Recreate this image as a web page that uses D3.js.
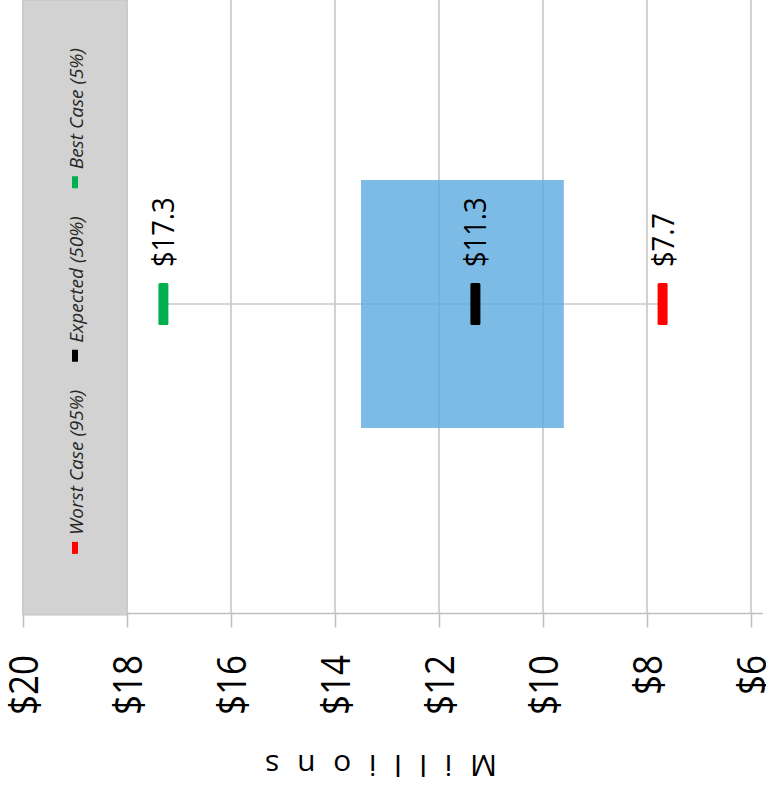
<!DOCTYPE html>
<html>
<head>
<meta charset="utf-8">
<script src="https://cdn.jsdelivr.net/npm/d3@7"></script>
<style>
  html, body { margin: 0; padding: 0; background: #fff; }
  svg { display: block; font-family: "Open Sans", "Noto Sans", sans-serif; }
</style>
</head>
<body>
<svg id="chart" width="766" height="796"></svg>
<script>
// ---- data ----
const tickValues = [20, 18, 16, 14, 12, 10, 8, 6];
const tickLabels = ["$20", "$18", "$16", "$14", "$12", "$10", "$8", "$6"];
const caseNames = ["Worst Case (95%)", "Expected (50%)", "Best Case (5%)"];
const caseValues = [7.7, 11.3, 17.3];
const caseLabels = ["$7.7", "$11.3", "$17.3"];
const caseColors = ["#FF0000", "#000000", "#00B050"];
const boxRange = [13.5, 9.6];      // shaded blue range (millions)
const shadedBand = [20, 18];       // grey legend band
const category = ["Estimate"];
const axisTitle = "Millions";

// ---- layout ----
const svg = d3.select("#chart");
const plotTop = 0, plotBottom = 613.5;
const x = d3.scaleLinear().domain([20, 6]).range([23, 751]);
const y = d3.scaleBand().domain(category).range([0, 608]).paddingOuter(0.4206).paddingInner(0.4206);
const cy = y(category[0]) + y.bandwidth() / 2;

// gridlines
svg.append("g").selectAll("line").data(tickValues).join("line")
  .attr("x1", d => x(d)).attr("x2", d => x(d))
  .attr("y1", plotTop).attr("y2", plotBottom)
  .attr("stroke", "#BFBFBF").attr("stroke-width", 1.4);

// horizontal axis line
svg.append("line")
  .attr("x1", x(18)).attr("x2", 763)
  .attr("y1", plotBottom).attr("y2", plotBottom)
  .attr("stroke", "#BFBFBF").attr("stroke-width", 1.6);

// grey band
svg.append("rect")
  .attr("x", x(shadedBand[0])).attr("width", x(shadedBand[1]) - x(shadedBand[0]))
  .attr("y", plotTop).attr("height", 615 - plotTop)
  .attr("fill", "#D1D2D1").attr("stroke", "#C4C4C4").attr("stroke-width", 1);

// axis with ticks + labels
const axis = d3.axisBottom(x).tickValues(tickValues)
  .tickFormat((d, i) => tickLabels[i]).tickSize(14).tickSizeOuter(0);
const gAxis = svg.append("g").attr("transform", `translate(0,${plotBottom})`).call(axis);
gAxis.select(".domain").remove();
gAxis.selectAll(".tick line").attr("stroke", "#BFBFBF").attr("stroke-width", 1.5);
gAxis.selectAll(".tick text")
  .attr("x", 0).attr("y", 0).attr("dy", "0.357em")
  .attr("transform", `translate(0,${655 - plotBottom}) rotate(-90) scale(0.875,1)`)
  .attr("text-anchor", "end")
  .attr("fill", "#000")
  .style("font-size", "40px")
  .style("font-family", '"Open Sans", sans-serif');

// whisker line from best to worst
svg.append("line")
  .attr("x1", x(d3.max(caseValues))).attr("x2", x(d3.min(caseValues)))
  .attr("y1", cy).attr("y2", cy)
  .attr("stroke", "#C8C8C8").attr("stroke-width", 1.6);

// blue box
svg.append("rect")
  .attr("x", x(boxRange[0])).attr("width", x(boxRange[1]) - x(boxRange[0]))
  .attr("y", y(category[0])).attr("height", y.bandwidth())
  .attr("fill", "#5BAADE").attr("fill-opacity", 0.8);

// markers
const mW = 10, mH = 42;
svg.append("g").selectAll("rect").data(caseValues).join("rect")
  .attr("x", d => x(d) - mW / 2).attr("width", mW)
  .attr("y", cy - mH / 2).attr("height", mH)
  .attr("rx", 1.5)
  .attr("fill", (d, i) => caseColors[i]);

// data labels
svg.append("g").selectAll("text").data(caseValues).join("text")
  .attr("transform", d => `translate(${x(d)},267) rotate(-90) scale(0.88,1)`)
  .attr("dy", "0.357em")
  .attr("text-anchor", "start")
  .attr("fill", "#000")
  .style("font-size", "31px")
  .text((d, i) => caseLabels[i]);

// legend (rotated, in grey band)
const legX = 75, legMarkLen = 12, legGap = 7, itemGap = 28;
const leg = svg.append("g");
const items = caseNames.map((name, i) => {
  const t = leg.append("text")
    .style("font-size", "19px").style("font-style", "italic")
    .attr("fill", "#262626")
    .attr("dy", "0.357em")
    .attr("text-anchor", "start")
    .text(name);
  return { t, len: t.node().getComputedTextLength(), i };
});
const total = d3.sum(items, d => legMarkLen + legGap + d.len) + itemGap * (items.length - 1);
let cursor = 301 + total / 2; // bottom of legend block
items.forEach(d => {
  leg.append("rect")
    .attr("x", legX - 3).attr("width", 6)
    .attr("y", cursor - legMarkLen).attr("height", legMarkLen)
    .attr("fill", caseColors[d.i]);
  const start = cursor - legMarkLen - legGap;
  d.t.attr("transform", `translate(${legX + 1},${start}) rotate(-90)`);
  cursor = start - d.len - itemGap;
});

// axis title (upside down)
svg.append("text")
  .attr("transform", "translate(381,755) rotate(180)")
  .attr("text-anchor", "middle")
  .attr("textLength", 232).attr("lengthAdjust", "spacing")
  .attr("fill", "#000")
  .style("font-size", "30px")
  .text(axisTitle);
</script>
</body>
</html>
